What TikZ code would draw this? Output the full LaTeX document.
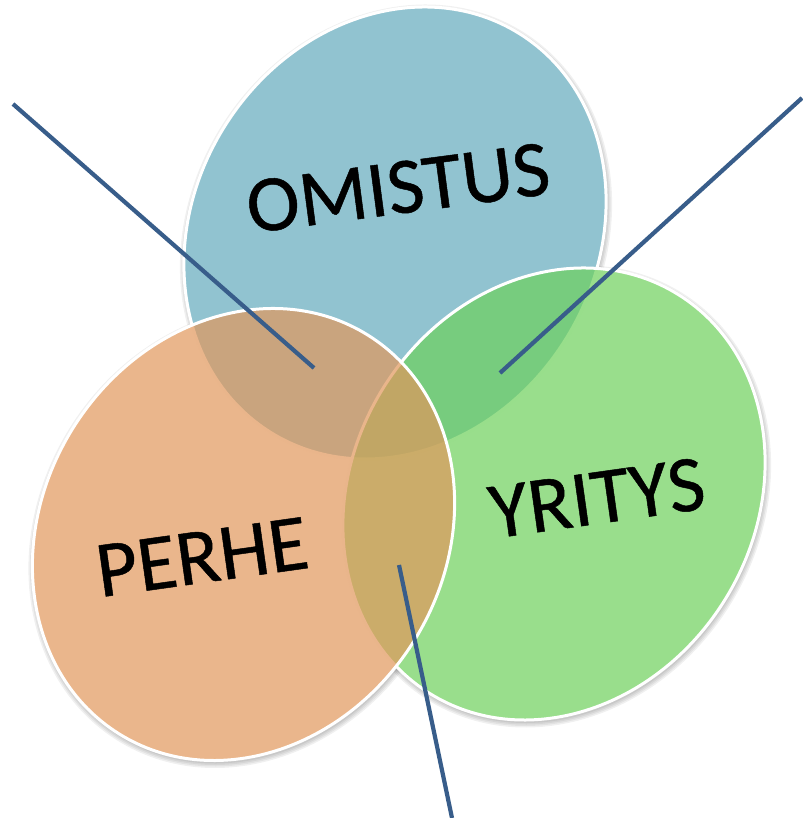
\documentclass[tikz,border=0pt]{standalone}
\usepackage{fontspec}
\setmainfont{Carlito}
\newfontfamily\lblfont{Carlito}[FakeBold=0.6]
\definecolor{blueC}{RGB}{99,169,188}
\definecolor{greenC}{RGB}{109,208,91}
\definecolor{orangeC}{RGB}{225,151,91}
\definecolor{lineC}{RGB}{56,93,138}
\tikzset{
  lbl/.style={font=\lblfont\fontsize{80}{96}\selectfont, text=black, inner sep=0pt},
  conn/.style={draw=lineC, line width=4.2pt},
  rim/.style={draw=white, line width=3pt},
}
\def\EllB{(395,585) ellipse [x radius=235pt, y radius=201pt, rotate=58]}
\def\EllG{(554,324) ellipse [x radius=235pt, y radius=201pt, rotate=58]}
\def\EllO{(243.5,283.5) ellipse [x radius=235pt, y radius=201pt, rotate=58]}
\begin{document}
\begin{tikzpicture}[x=1pt,y=1pt]
\useasboundingbox (0,0) rectangle (802,818);
% soft shadows, only outside the three shapes
\begin{scope}[even odd rule]
  \clip \EllB (-20,-20) rectangle (822,838);
  \clip \EllG (-20,-20) rectangle (822,838);
  \clip \EllO (-20,-20) rectangle (822,838);
  \foreach \cx/\cy in {395/585, 554/324, 243.5/283.5} {
    \foreach \k in {0.5,2,3.5,5} {
      \pgfmathsetmacro\rx{235+\k}
      \pgfmathsetmacro\ry{201+\k}
      \fill[black, fill opacity=0.06] (\cx+1,\cy-2.5) ellipse [x radius=\rx pt, y radius=\ry pt, rotate=58];
    }
  }
\end{scope}
% the three sets
\fill[blueC, fill opacity=0.7] \EllB;
\path[rim] \EllB;
\fill[greenC, fill opacity=0.7] \EllG;
\path[rim] \EllG;
\fill[orangeC, fill opacity=0.7] \EllO;
\path[rim] \EllO;
% labels
\node[lbl, rotate=7.5] (omistus) at (398,630) {OMISTUS};
\node[lbl, rotate=8] (yritys) at (597,320) {YRITYS};
\node[lbl, rotate=8] (perhe) at (202,261) {PERHE};
% pointer lines
\coordinate (p1a) at (13,714);
\coordinate (p1b) at (314,450);
\coordinate (p2a) at (802,720);
\coordinate (p2b) at (500,445);
\coordinate (p3a) at (452,0);
\coordinate (p3b) at (399,253);
\draw[conn] (p1a) -- (p1b);
\draw[conn] (p2a) -- (p2b);
\draw[conn] (p3a) -- (p3b);
\end{tikzpicture}
\end{document}
